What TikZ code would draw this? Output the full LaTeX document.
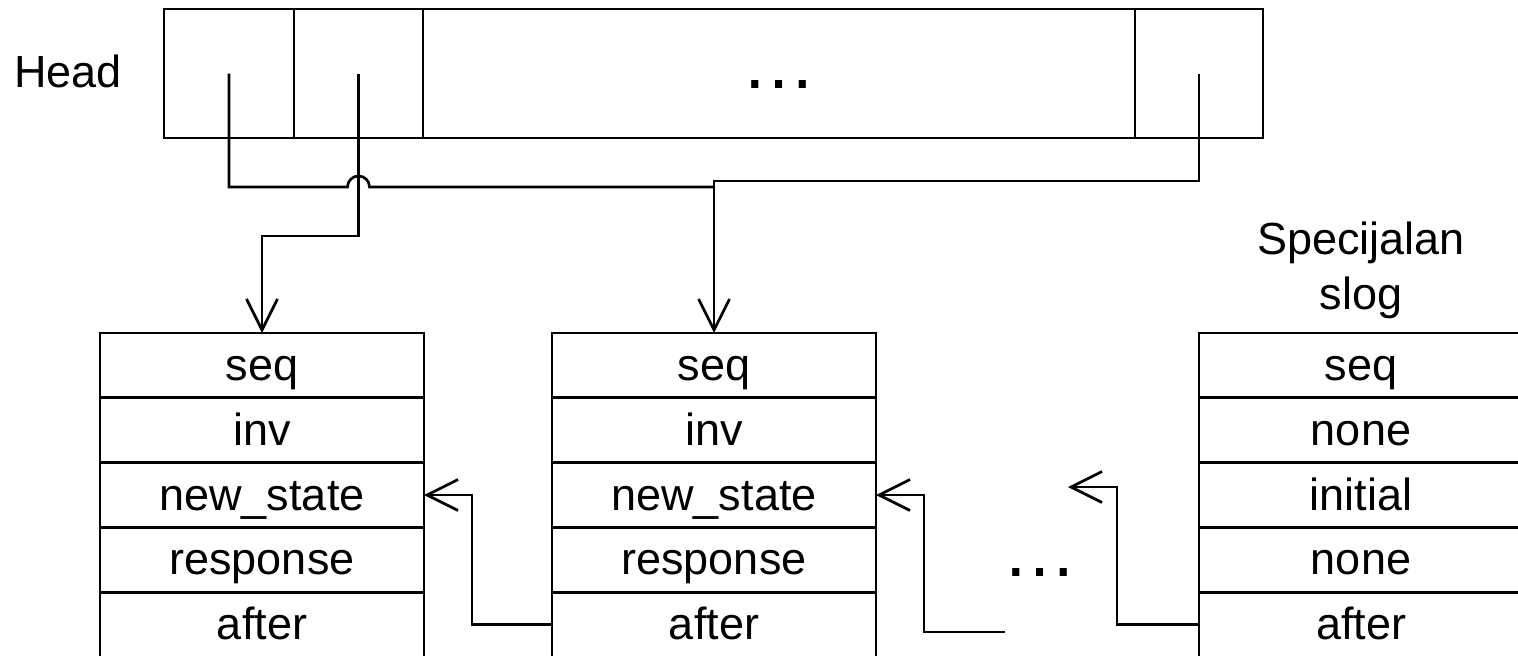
\documentclass[tikz,border=0pt]{standalone}
\usepackage{fontspec}
\setmainfont{Liberation Sans}
\usetikzlibrary{positioning,arrows.meta}

\tikzset{
  cell/.style={draw, line width=1.35pt, minimum height=64.5pt, inner sep=0pt, outer sep=0pt},
  field/.style={draw, line width=1.35pt, minimum width=162pt, minimum height=32.4pt,
    inner sep=0pt, outer sep=0pt, text height=19pt, text depth=4pt},
  ellip/.style={inner sep=0pt, font=\fontsize{37.5}{40}\selectfont},
  link/.style={line width=1.35pt},
  ptr/.style={line width=1.35pt, -{Straight Barb[length=15.5pt,width=15.5pt]}}
}

\begin{document}
\begin{tikzpicture}[x=0.5pt, y=-0.5pt, font=\fontsize{22.5}{27.5}\selectfont]
\useasboundingbox (0,0) rectangle (1518,655);
\clip (0,0) rectangle (1518,655);

% Head array
\node (head) at (68,71) {Head};
\node[cell, minimum width=65pt] (h1) at (229,73.5) {};
\node[cell, minimum width=64.5pt, right=0pt of h1] (h2) {};
\node[cell, minimum width=356pt, right=0pt of h2] (h3) {};
\node[cell, minimum width=64pt, right=0pt of h3] (h4) {};
\node[ellip] (hdots) at (779,84) {…};

% Records
\foreach \txt [count=\i] in {seq,inv,new\_state,response,after}
  \node[field] (a\i) at (262,{365.4+64.8*(\i-1)}) {\txt};
\foreach \txt [count=\i] in {seq,inv,new\_state,response,after}
  \node[field] (b\i) at (714,{365.4+64.8*(\i-1)}) {\txt};
\foreach \txt [count=\i] in {seq,none,initial,none,after}
  \node[field] (c\i) at (1361,{365.4+64.8*(\i-1)}) {\txt};

% Label of the last record
\node[anchor=south, align=center, inner sep=0pt] (spec) at (1361,319.5) {Specijalan\\slog};

% Pointers out of the head
\coordinate (bus) at (714,187);
\coordinate (busr) at (714,181);
\coordinate (hop) at (h2.center |- bus);
\draw[link] (h1.center) |- ([xshift=-5.5pt]hop)
  arc[start angle=180, end angle=360, radius=11] -- (bus);
\draw[ptr] (h4.center) |- (busr) -- (b1.north);
\draw[ptr] (h2.center) -- (h2.center |- 0,236) -| (a1.north);

% Links between records
\coordinate (gapa) at (1005,632);
\coordinate (gapb) at (1068,487);
\draw[ptr] (b5.west) -- ++(-80,0) |- (a3.east);
\draw[ptr] (gapa) -- ++(-81,0) |- (b3.east);
\draw[ptr] (c5.west) -- ++(-82,0) |- (gapb);
\node[ellip] (rdots) at (1040,572) {…};

\end{tikzpicture}
\end{document}
